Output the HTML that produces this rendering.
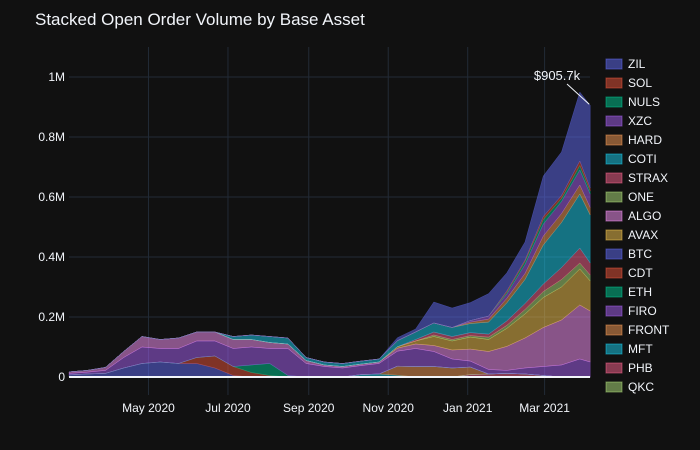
<!DOCTYPE html>
<html><head><meta charset="utf-8"><style>
body{margin:0;background:#111111;}
svg{display:block;font-family:"Liberation Sans",Arial,sans-serif;}
</style></head><body>
<svg id="chart" width="700" height="450" viewBox="0 0 700 450">
<rect width="700" height="450" fill="#111111"/>
<text x="35" y="25" fill="#f2f5fa" font-size="17">Stacked Open Order Volume by Base Asset</text>
<g id="grid"></g>
<g id="areas"></g>
<g id="axes"></g>
<g id="legend"></g>
<g id="annot"></g>
</svg>
<script>
// day offsets from 2020-03-01
const dayOffsets=[0,14,28,42,56,70,84,98,112,126,140,154,168,182,196,210,224,238,252,266,280,294,308,322,336,350,364,378,392,400];
const assetNames=["ZIL","SOL","NULS","XZC","HARD","COTI","STRAX","ONE","ALGO","AVAX","BTC","CDT","ETH","FIRO","FRONT","MFT","PHB","QKC"];
const assetColors={ZIL:"#636efa",SOL:"#EF553B",NULS:"#00cc96",XZC:"#ab63fa",HARD:"#FFA15A",COTI:"#19d3f3",STRAX:"#FF6692",ONE:"#B6E880",ALGO:"#FF97FF",AVAX:"#FECB52",BTC:"#636efa",CDT:"#EF553B",ETH:"#00cc96",FIRO:"#ab63fa",FRONT:"#FFA15A",MFT:"#19d3f3",PHB:"#FF6692",QKC:"#B6E880"};
// values in thousands USD
const QKC  =[2,2,0,0,0,0,0,0,0,0,0,0,0,0,0,0,0,0,0,0,0,0,0,0,0,0,0,0,0,0];
const PHB  =[0,0,0,0,0,0,0,0,0,0,0,0,0,0,0,0,0,0,0,0,0,0,8,10,12,10,5,0,0,0];
const MFT  =[0,0,0,0,0,0,0,0,0,0,0,0,0,0,0,0,8,10,6,0,0,0,0,0,0,0,0,0,0,0];
const FRONT=[0,0,0,0,0,0,0,0,0,0,0,0,0,0,0,0,0,0,30,35,35,30,25,0,0,0,0,0,0,0];
const BTC  =[5,8,12,30,45,50,45,45,30,5,0,0,0,0,0,0,0,0,0,0,0,0,0,0,0,0,0,0,0,0];
const CDT  =[0,0,0,0,0,0,0,20,40,30,15,5,0,0,0,0,0,0,0,0,0,0,0,0,0,0,0,0,0,0];
const ETH  =[0,0,0,0,0,0,0,0,0,0,25,40,5,0,0,0,0,0,0,0,0,0,0,0,0,0,0,0,0,0];
const FIRO =[5,6,10,35,55,45,50,55,50,60,60,50,90,45,35,30,30,35,50,60,50,30,20,15,10,20,30,40,60,50];
const ALGO =[5,6,10,20,35,30,35,30,30,30,25,20,15,10,5,5,5,5,10,15,20,30,40,60,80,100,130,150,180,170];
const AVAX =[0,0,0,0,0,0,0,0,0,0,0,0,0,0,0,0,0,0,5,10,30,30,40,40,60,80,100,110,120,100];
const ONE  =[0,0,0,0,0,0,0,0,0,0,0,0,0,0,0,0,0,0,0,0,5,5,5,8,10,15,20,25,20,20];
const STRAX=[0,0,0,0,0,0,0,0,0,0,0,0,0,0,0,0,0,0,0,5,10,10,10,10,15,20,25,40,50,40];
const COTI =[0,0,0,0,0,0,0,0,0,10,15,20,20,10,10,10,10,10,20,25,30,30,30,40,60,80,130,150,180,160];
const HARD =[0,0,0,0,0,0,0,0,0,0,0,0,0,0,0,0,0,0,0,0,0,0,5,10,15,20,30,30,30,25];
const XZC  =[0,0,0,0,0,0,0,0,0,0,0,0,0,0,0,0,0,0,0,0,0,0,5,10,15,30,40,40,50,45];
const NULS =[0,0,0,0,0,0,0,0,0,0,0,0,0,0,0,0,0,0,0,0,0,0,0,0,5,10,15,10,15,10];
const SOL  =[0,0,0,0,0,0,0,0,0,0,0,0,0,0,0,0,0,0,0,0,0,0,0,0,5,5,10,10,15,10];
const ZIL  =[0,0,0,0,0,0,0,0,0,0,0,0,0,0,0,0,0,0,10,10,70,65,60,75,60,60,135,145,230,275.7];
const stackOrder=["QKC","PHB","MFT","FRONT","BTC","CDT","ETH","FIRO","ALGO","AVAX","ONE","STRAX","COTI","HARD","XZC","NULS","SOL","ZIL"];
const seriesData={QKC,PHB,MFT,FRONT,BTC,CDT,ETH,FIRO,ALGO,AVAX,ONE,STRAX,COTI,HARD,XZC,NULS,SOL,ZIL};
const yTickValues=[0,200,400,600,800,1000];
const yTickLabels=["0","0.2M","0.4M","0.6M","0.8M","1M"];
const xTickDays=[61,122,184,245,306,365];
const xTickLabels=["May 2020","Jul 2020","Sep 2020","Nov 2020","Jan 2021","Mar 2021"];

const NS="http://www.w3.org/2000/svg";
const X0=69,PXD=1.303,Y0=377,PXK=0.3,L=69,R=590,T=47,B=395;
const xs=d=>X0+d*PXD, ys=v=>Y0-v*PXK;
function mk(tag,attrs,parent){const e=document.createElementNS(NS,tag);for(const k in attrs)e.setAttribute(k,attrs[k]);parent.appendChild(e);return e;}
const grid=document.getElementById('grid'),areas=document.getElementById('areas'),axes=document.getElementById('axes'),legend=document.getElementById('legend'),annot=document.getElementById('annot');
yTickValues.forEach((v,i)=>{
  if(v!==0){const g=mk('line',{x1:L,x2:R,y1:ys(v),y2:ys(v),stroke:'#222b36','stroke-width':1},grid);
  
  }
  const t=mk('text',{x:L-4,y:ys(v)+4,'text-anchor':'end',fill:'#f2f5fa','font-size':12},axes);t.textContent=yTickLabels[i];
  
  
});
xTickDays.forEach((d,i)=>{
  const g=mk('line',{x1:xs(d),x2:xs(d),y1:T,y2:B,stroke:'#222b36','stroke-width':1},grid);
  
  
  const t=mk('text',{x:xs(d),y:B+17,'text-anchor':'middle',fill:'#f2f5fa','font-size':12},axes);t.textContent=xTickLabels[i];
  
  
});
const n=dayOffsets.length;let base=new Array(n).fill(0);
stackOrder.forEach(name=>{
  const vals=seriesData[name];const top=base.map((b,i)=>b+vals[i]);
  let d='M'+dayOffsets.map((dd,i)=>xs(dd).toFixed(1)+','+ys(top[i]).toFixed(1)).join(' L');
  for(let i=n-1;i>=0;i--)d+=' L'+xs(dayOffsets[i]).toFixed(1)+','+ys(base[i]).toFixed(1);
  d+=' Z';
  const p=mk('path',{d:d,fill:assetColors[name],'fill-opacity':0.5,stroke:assetColors[name],'stroke-opacity':0.5,'stroke-width':0.5},areas);
  
  
  base=top;
});
const zl=mk('line',{x1:L,x2:R,y1:Y0,y2:Y0,stroke:'#f2f5fa','stroke-width':2},axes);


assetNames.forEach((name,i)=>{
  const y=64+i*19;
  const g=mk('g',{},legend);
  
  
  mk('rect',{x:606,y:y-5,width:16,height:10,fill:assetColors[name],'fill-opacity':0.5,stroke:assetColors[name],'stroke-opacity':0.5},g);
  const t=mk('text',{x:628,y:y+4,fill:'#f2f5fa','font-size':12},g);t.textContent=name;
});
const lastTotal=base[n-1];
const ex=xs(dayOffsets[n-1]),ey=ys(lastTotal);
const al=mk('line',{x1:567,y1:84,x2:ex-1,y2:ey-1,stroke:'#f2f5fa','stroke-width':1},annot);


const at=mk('text',{x:557,y:80,'text-anchor':'middle',fill:'#f2f5fa','font-size':13},annot);
at.textContent='$'+lastTotal.toFixed(1)+'k';


</script>
</body></html>
